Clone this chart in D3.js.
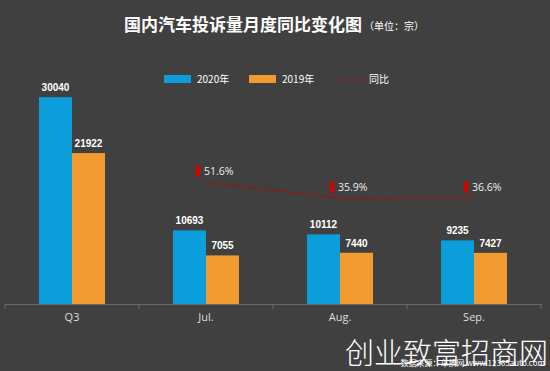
<!DOCTYPE html>
<html lang="zh">
<head>
<meta charset="UTF-8">
<title>国内汽车投诉量月度同比变化图</title>
<script src="https://d3js.org/d3.v7.min.js"></script>
<style>
  body {margin:0; background:#404040;}
</style>
</head>
<body>
<div id="chart"></div>
<script>
// data
var categories = ["Q3", "Jul.", "Aug.", "Sep."];
var series2020 = [30040, 10693, 10112, 9235];
var series2019 = [21922, 7055, 7440, 7427];
var yoyCats = ["Jul.", "Aug.", "Sep."];
var yoyValues = [51.6, 35.9, 36.6];
var legendLabels = ["2020年", "2019年", "同比"];

var w = 550, h = 371;
var colors = ["#0c9ddb", "#f29b30"];
var lineColor = "#8e1a1a";
var cjk = "'Noto Sans CJK SC', sans-serif";

var svg = d3.select("#chart").append("svg")
    .attr("width", w).attr("height", h)
    .style("font-family", cjk);

svg.append("rect").attr("width", w).attr("height", h).attr("fill", "#404040");

var x = d3.scaleBand().domain(categories).range([5, 541]);
var xInner = d3.scaleBand().domain([0, 1]).range([0, 66]);
var y = d3.scaleLinear().domain([0, 35000]).range([304, 63]);
var y2 = d3.scaleLinear().domain([36.25, 51.6]).range([198, 182]);

// title
var title = svg.append("text")
    .attr("x", 124).attr("y", 31)
    .attr("fill", "#fff").attr("font-size", "17px").attr("font-weight", "bold");
title.append("tspan").text("国内汽车投诉量月度同比变化图");
title.append("tspan").attr("font-size", "10px").attr("font-weight", "normal").attr("dx", 2)
    .attr("dy", -1).text("（单位：宗）");

// legend
var lg = svg.append("g").attr("font-size", "10px").attr("fill", "#fff");
[164, 249].forEach(function(lx, i) {
    lg.append("rect").attr("x", lx).attr("y", 75).attr("width", 27).attr("height", 8).attr("fill", colors[i]);
    lg.append("text").attr("x", lx + 33).attr("y", 83).attr("fill", "#fff").text(legendLabels[i]);
});
lg.append("line").attr("x1", 335).attr("x2", 362).attr("y1", 80).attr("y2", 80)
    .attr("stroke", lineColor).attr("stroke-width", 1.2);
lg.append("text").attr("x", 369).attr("y", 83).attr("fill", "#fff").text(legendLabels[2]);

// bars
var data = categories.map(function(c, i) { return [series2020[i], series2019[i]]; });
var groups = svg.selectAll("g.cat").data(data).enter().append("g")
    .attr("transform", function(d, i) { return "translate(" + (x(categories[i]) + x.bandwidth() / 2 - 33) + ",0)"; });

groups.selectAll("rect").data(function(d) { return d; }).enter().append("rect")
    .attr("x", function(d, i) { return xInner(i); })
    .attr("width", xInner.bandwidth())
    .attr("y", function(d) { return y(d); })
    .attr("height", function(d) { return 304 - y(d); })
    .attr("fill", function(d, i) { return colors[i]; });

groups.selectAll("text").data(function(d) { return d; }).enter().append("text")
    .attr("x", function(d, i) { return xInner(i) + xInner.bandwidth() / 2; })
    .attr("y", function(d) { return y(d) - 6; })
    .attr("text-anchor", "middle")
    .style("font-family", "'Liberation Sans', Arial, sans-serif")
    .attr("font-size", "10px").attr("font-weight", "bold")
    .attr("fill", "#fff")
    .text(function(d) { return d; });

// x axis
var xAxis = svg.append("g").attr("transform", "translate(0,304)")
    .call(d3.axisBottom(x).tickSize(0).tickPadding(9));
xAxis.select(".domain").attr("stroke", "#6a6a6a");
xAxis.selectAll("text").attr("fill", "#ddd").attr("font-size", "11px")
    .style("font-family", "'Open Sans', sans-serif");
var tickPos = categories.map(function(c) { return x(c); }).concat([x.range()[1]]);
svg.selectAll("line.tk").data(tickPos).enter().append("line")
    .attr("x1", function(d) { return d; }).attr("x2", function(d) { return d; })
    .attr("y1", 304).attr("y2", 309).attr("stroke", "#6a6a6a");

// yoy line
var line = d3.line()
    .x(function(d, i) { return x(yoyCats[i]) + x.bandwidth() / 2; })
    .y(function(d) { return y2(d); });
svg.append("path").datum(yoyValues).attr("d", line)
    .attr("fill", "none").attr("stroke", lineColor).attr("stroke-width", 1.2);

var labs = svg.selectAll("g.yoy").data(yoyValues).enter().append("g")
    .attr("transform", function(d, i) {
        return "translate(" + (x(yoyCats[i]) + x.bandwidth() / 2 - 8) + "," + (y2(d) - 11) + ")";
    });
labs.append("path").attr("d", "M-3.5,-2.5 L0,-6 L3.5,-2.5 L2,-2.5 L2,6 L-2,6 L-2,-2.5 Z")
    .attr("fill", "#d40000");
labs.append("text").attr("x", 6).attr("y", 4)
    .style("font-family", "'Open Sans', sans-serif")
    .attr("font-size", "10.5px").attr("fill", "#eee")
    .text(function(d) { return d.toFixed(1) + "%"; });

// source + watermark
svg.append("text").attr("x", 545).attr("y", 366).attr("text-anchor", "end")
    .attr("font-size", "8px").attr("fill", "#fff")
    .text("数据来源：车质网 www.12365auto.com");
svg.append("text").attr("x", 548).attr("y", 364).attr("text-anchor", "end")
    .attr("font-size", "29px").attr("fill", "#fff").attr("font-weight", "300")
    .text("创业致富招商网");
</script>
</body>
</html>
